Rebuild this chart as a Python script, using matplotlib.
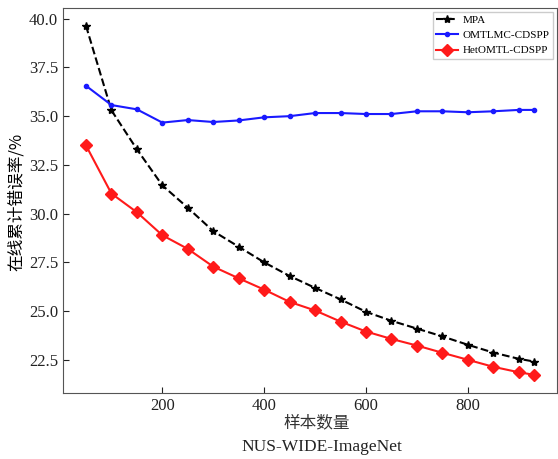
import numpy as np
import matplotlib
matplotlib.use("Agg")
import matplotlib.pyplot as plt

plt.rcParams['font.family'] = ['Liberation Serif', 'Noto Sans CJK SC']

# 样本数量
samples = [50, 100, 150, 200, 250, 300, 350, 400, 450, 500,
           550, 600, 650, 700, 750, 800, 850, 900, 930]

# 在线累计错误率 (%)
mpa = [39.64, 35.3, 33.3, 31.45, 30.3, 29.1, 28.3, 27.5, 26.8, 26.19,
       25.6, 24.96, 24.5, 24.1, 23.7, 23.27, 22.87, 22.55, 22.41]
omtlmc = [36.56, 35.57, 35.35, 34.67, 34.8, 34.7, 34.78, 34.94, 35.0, 35.16,
          35.16, 35.11, 35.11, 35.25, 35.25, 35.2, 35.25, 35.32, 35.32]
hetomtl = [33.5, 31.03, 30.07, 28.89, 28.19, 27.28, 26.68, 26.1, 25.47, 25.03,
           24.46, 23.95, 23.57, 23.23, 22.86, 22.5, 22.14, 21.86, 21.73]

fig = plt.figure(figsize=(5.58, 4.59), dpi=100)
ax = fig.add_axes([0.113, 0.144, 0.885, 0.839])

ax.plot(samples, mpa, '--', color='black', marker='*', markersize=6,
        linewidth=1.5, label='MPA')
ax.plot(samples, omtlmc, '-', color='#1a1aff', marker='o', markersize=3,
        linewidth=1.5, label='OMTLMC-CDSPP')
ax.plot(samples, hetomtl, '-', color='#ff1a1a', marker='D', markersize=6.5,
        linewidth=1.5, label='HetOMTL-CDSPP')

ax.set_xlim(5, 975)
ax.set_ylim(20.8, 40.56)
ax.set_xticks([200, 400, 600, 800])
ax.set_yticks(np.arange(22.5, 40.1, 2.5))
ax.yaxis.set_major_formatter(matplotlib.ticker.FormatStrFormatter('%.1f'))
ax.tick_params(direction='in', length=4, labelsize=12, colors='#222222')
for s in ax.spines.values():
    s.set_color('#555555')

ax.legend(loc='upper right', fontsize=8, handlelength=2.0, handletextpad=0.4,
          borderpad=0.3, labelspacing=0.5, fancybox=False, edgecolor='#cccccc',
          framealpha=1, borderaxespad=0.35)

fig.text(0.03, 0.56, '在线累计错误率/%', rotation=90, ha='center', va='center',
         fontsize=12, family=['Noto Sans CJK SC', 'Liberation Serif'])
fig.text(0.567, 0.078, '样本数量', ha='center', va='center', fontsize=12,
         family=['Noto Sans CJK SC'], color='#333333')
fig.text(0.577, 0.026, 'NUS-WIDE-ImageNet', ha='center', va='center',
         fontsize=12.5, color='#222222')

fig.savefig('out.png', dpi=100)
